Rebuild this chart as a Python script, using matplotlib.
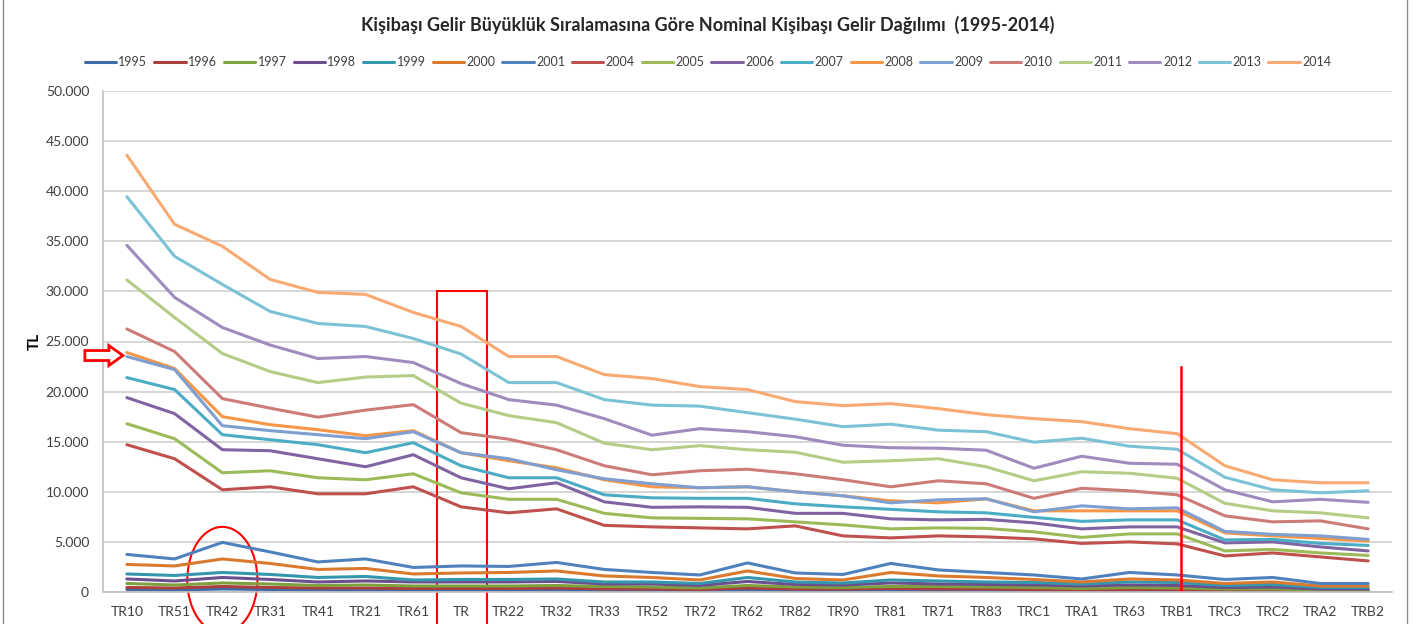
import matplotlib
matplotlib.use("Agg")
import matplotlib.pyplot as plt
from matplotlib.patches import Ellipse, Rectangle, Polygon
from matplotlib.ticker import FuncFormatter, MultipleLocator

plt.rcParams['font.family'] = ['Lato', 'DejaVu Sans']

regions = ["TR10", "TR51", "TR42", "TR31", "TR41", "TR21", "TR61", "TR", "TR22",
           "TR32", "TR33", "TR52", "TR72", "TR62", "TR82", "TR90", "TR81", "TR71",
           "TR83", "TRC1", "TRA1", "TR63", "TRB1", "TRC3", "TRC2", "TRA2", "TRB2"]

years = ["1995", "1996", "1997", "1998", "1999", "2000", "2001", "2004", "2005",
         "2006", "2007", "2008", "2009", "2010", "2011", "2012", "2013", "2014"]

v1995 = [250, 200, 300, 250, 200, 200, 200, 200, 200, 200, 150, 150, 150, 200, 150, 150, 200, 150, 150, 150, 100, 150, 150, 100, 100, 50, 50]
v1996 = [450, 400, 550, 450, 400, 400, 350, 350, 350, 400, 300, 300, 250, 400, 300, 300, 350, 300, 300, 250, 200, 250, 250, 150, 200, 100, 100]
v1997 = [850, 700, 900, 800, 650, 700, 600, 600, 600, 650, 550, 500, 400, 650, 500, 450, 550, 550, 500, 450, 350, 450, 400, 300, 300, 200, 200]
v1998 = [1300, 1100, 1450, 1250, 1000, 1100, 1000, 1000, 1000, 1050, 800, 800, 650, 1050, 750, 700, 900, 800, 750, 700, 600, 700, 650, 450, 500, 300, 300]
v1999 = [1800, 1650, 1950, 1750, 1450, 1550, 1200, 1250, 1250, 1300, 1000, 1000, 850, 1450, 1000, 900, 1200, 1100, 1000, 950, 800, 1000, 950, 650, 750, 450, 450]
v2000 = [2750, 2600, 3300, 2850, 2250, 2350, 1800, 1900, 1950, 2100, 1600, 1450, 1200, 2100, 1350, 1200, 1950, 1600, 1450, 1250, 1000, 1300, 1200, 850, 1000, 600, 600]
v2001 = [3750, 3300, 4950, 4000, 3000, 3300, 2450, 2600, 2550, 2950, 2250, 1950, 1700, 2900, 1900, 1750, 2850, 2200, 1950, 1700, 1300, 1950, 1700, 1250, 1450, 850, 850]
v2004 = [14700, 13300, 10200, 10500, 9800, 9800, 10500, 8500, 7900, 8300, 6650, 6500, 6400, 6300, 6600, 5600, 5400, 5600, 5500, 5300, 4850, 5000, 4800, 3600, 3900, 3500, 3100]
v2005 = [16800, 15300, 11900, 12100, 11400, 11200, 11800, 9900, 9250, 9250, 7850, 7400, 7350, 7300, 7000, 6700, 6300, 6400, 6350, 6000, 5450, 5800, 5800, 4100, 4250, 3900, 3650]
v2006 = [19400, 17800, 14200, 14100, 13300, 12500, 13700, 11400, 10300, 10900, 9000, 8450, 8500, 8450, 7850, 7850, 7300, 7200, 7250, 6900, 6300, 6500, 6500, 4900, 5000, 4500, 4100]
v2007 = [21400, 20200, 15700, 15200, 14700, 13900, 14900, 12600, 11400, 11400, 9700, 9400, 9350, 9350, 8800, 8500, 8250, 8000, 7900, 7450, 7050, 7200, 7200, 5200, 5250, 4850, 4650]
v2008 = [23900, 22300, 17500, 16700, 16200, 15600, 16100, 13900, 13100, 12400, 11200, 10500, 10400, 10500, 10000, 9600, 9100, 8900, 9300, 8100, 8100, 8100, 8100, 5900, 5600, 5350, 5100]
v2009 = [23500, 22200, 16600, 16100, 15700, 15300, 16000, 13900, 13300, 12200, 11300, 10800, 10400, 10500, 10000, 9600, 8900, 9200, 9300, 8000, 8600, 8300, 8400, 6050, 5750, 5600, 5250]
v2010 = [26250, 24000, 19300, 18350, 17450, 18150, 18700, 15900, 15250, 14200, 12600, 11700, 12100, 12250, 11800, 11200, 10500, 11100, 10800, 9350, 10350, 10100, 9700, 7600, 7000, 7100, 6300]
v2011 = [31150, 27400, 23800, 22000, 20900, 21450, 21600, 18850, 17600, 16900, 14850, 14200, 14600, 14200, 13950, 12950, 13100, 13300, 12500, 11100, 12000, 11850, 11350, 8850, 8100, 7900, 7400]
v2012 = [34600, 29400, 26400, 24650, 23300, 23500, 22900, 20800, 19200, 18650, 17300, 15650, 16300, 16000, 15500, 14650, 14400, 14350, 14150, 12350, 13550, 12850, 12750, 10200, 9000, 9250, 8950]
v2013 = [39450, 33500, 30700, 28000, 26800, 26500, 25300, 23750, 20900, 20900, 19200, 18650, 18550, 17900, 17250, 16500, 16750, 16150, 16000, 14950, 15350, 14550, 14250, 11450, 10200, 9900, 10100]
v2014 = [43600, 36700, 34500, 31200, 29900, 29700, 27900, 26500, 23500, 23500, 21700, 21300, 20500, 20200, 19000, 18600, 18800, 18300, 17700, 17300, 17000, 16300, 15800, 12600, 11200, 10900, 10900]

series = [v1995, v1996, v1997, v1998, v1999, v2000, v2001, v2004, v2005,
          v2006, v2007, v2008, v2009, v2010, v2011, v2012, v2013, v2014]

colors = ["#3D6CAB", "#A9403D", "#7FA03F", "#6A4F8C", "#3497AE", "#DA7A2E",
          "#4F81BD", "#C0504D", "#9BBB59", "#8064A2", "#4BACC6", "#F79646",
          "#7F9FD0", "#CD7B79", "#B4CC86", "#A08BBE", "#7CC2D6", "#F9AA72"]

W, H = 1416, 624
fig = plt.figure(figsize=(W / 100, H / 100), dpi=100)
ax = fig.add_axes([103 / W, 1 - 592 / H, (1392 - 103) / W, (592 - 91) / H])

x = list(range(len(regions)))
for yr, vals, c in zip(years, series, colors):
    ax.plot(x, vals, color=c, lw=2.2, label=yr, solid_capstyle='round', solid_joinstyle='round')

ax.set_xlim(-0.5, len(regions) - 0.5)
ax.set_ylim(0, 50000)
ax.yaxis.set_major_locator(MultipleLocator(5000))
ax.yaxis.set_major_formatter(FuncFormatter(lambda v, p: f"{int(v):,}".replace(",", ".")))
ax.set_xticks(x)
ax.set_xticklabels(regions)
ax.tick_params(axis='both', length=0, labelsize=10, colors='#404040')
ax.tick_params(axis='x', pad=10)
ax.tick_params(axis='y', pad=10)
ax.grid(axis='y', color='#D0D0D0', lw=1.2)
ax.set_axisbelow(True)
for s in ['top', 'right']:
    ax.spines[s].set_visible(False)
for s in ['left', 'bottom']:
    ax.spines[s].set_color('#BFBFBF')
    ax.spines[s].set_linewidth(1.2)

ax.set_ylabel("TL", fontsize=11, fontweight='bold', labelpad=3)

fig.suptitle("Kişibaşı Gelir Büyüklük Sıralamasına Göre Nominal Kişibaşı Gelir Dağılımı  (1995-2014)",
             x=0.5, y=1 - 25 / H, va='center', fontsize=13, fontweight='bold', color='#262626')

fig.legend(loc='center', bbox_to_anchor=(0.5, 1 - 62 / H), ncol=len(years),
           frameon=False, fontsize=9, handlelength=2.5, handletextpad=0.2,
           columnspacing=0.55, labelcolor='#404040')

# outer frame of the chart area
fig.patches.append(Rectangle((3 / W, -0.01), (1407 - 3) / W, 1.02, transform=fig.transFigure,
                             fill=False, edgecolor='#8C8C8C', lw=1.0))

# red highlights
red = '#FF0000'
ax.add_patch(Ellipse((2.0, 1200), 1.47, 10600, fill=False, edgecolor=red, lw=1.5, clip_on=False))
ax.add_patch(Rectangle((6.5, -5000), 1.05, 35000, fill=False, edgecolor=red, lw=1.5, clip_on=False))
ax.plot([22.07, 22.07], [0, 22500], color=red, lw=1.8)

# hollow block arrow pointing at TR10 (2008/2009 level), drawn in pixel offsets from its tip
fig.canvas.draw()
tip_x, tip_y = ax.transData.transform((0, 23600))
tip_x -= 4
arrow_px = [(-38, -5), (-14, -5), (-14, -10), (0, 0), (-14, 10), (-14, 5), (-38, 5)]
pts = [(tip_x + dx, tip_y + dy) for dx, dy in arrow_px]
fig.patches.append(Polygon(pts, closed=True, fill=True, facecolor='white', edgecolor=red,
                           lw=2.0, transform=None, clip_on=False))

fig.savefig("out.png", dpi=100)
